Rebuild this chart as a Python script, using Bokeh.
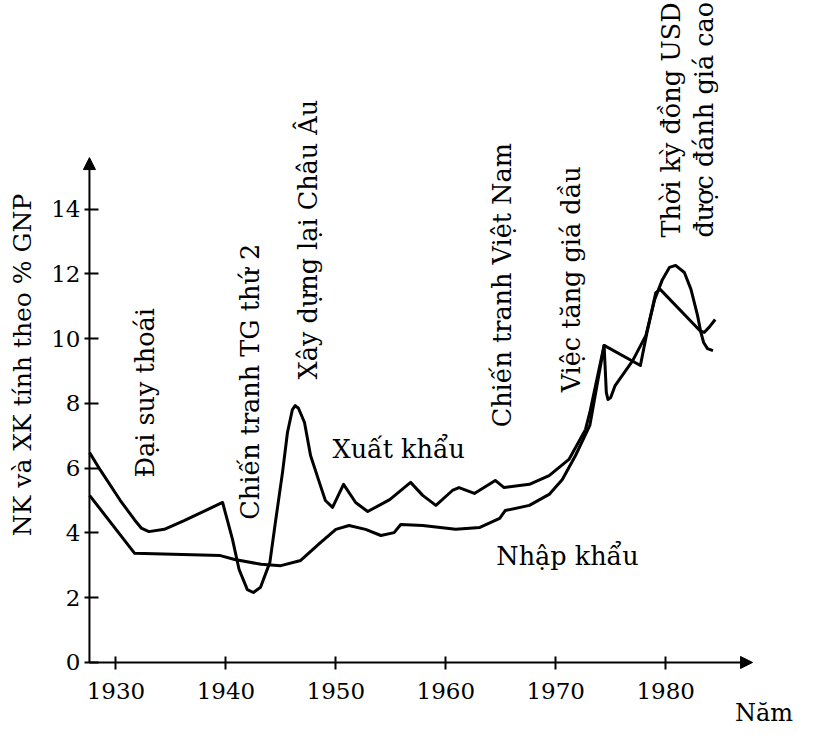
from math import pi
from bokeh.plotting import figure
from bokeh.models import Arrow, NormalHead, Range1d, FixedTicker
from bokeh.core.properties import value
from bokeh.embed import file_html
from bokeh.resources import INLINE

# ---------------- data ----------------
export_years = [1927.6, 1928.6, 1930.4, 1931.7, 1932.3, 1933.0, 1934.4, 1936.2, 1939.7,
                1940.6, 1941.2, 1941.95, 1942.5, 1943.15, 1944.0, 1944.5, 1945.15, 1945.6,
                1946.05, 1946.3, 1946.6, 1947.15, 1947.7, 1948.5, 1949.05, 1949.7, 1950.7,
                1951.8, 1952.9, 1954.9, 1956.8, 1957.9, 1959.1, 1960.6, 1961.2, 1962.6,
                1964.5, 1965.3, 1967.6, 1969.4, 1971.2, 1972.7, 1973.1, 1974.4, 1977.7,
                1978.3, 1979.1, 1979.5, 1983.1, 1983.5, 1984.0, 1984.5]
export_values = [6.48, 5.93, 5.00, 4.40, 4.15, 4.04, 4.11, 4.38, 4.94,
                 3.80, 2.87, 2.25, 2.16, 2.32, 3.09, 4.32, 5.87, 7.10,
                 7.81, 7.93, 7.85, 7.41, 6.39, 5.56, 5.00, 4.79, 5.50,
                 4.94, 4.66, 5.03, 5.56, 5.16, 4.85, 5.31, 5.40, 5.22,
                 5.62, 5.40, 5.50, 5.77, 6.27, 7.19, 7.72, 9.79, 9.17,
                 10.19, 11.42, 11.52, 10.25, 10.19, 10.37, 10.59]

import_years = [1927.6, 1931.7, 1939.5, 1940.8, 1943.2, 1945.0, 1946.8, 1948.6, 1950.0,
                1951.2, 1952.7, 1954.1, 1955.3, 1955.9, 1957.9, 1960.9, 1963.1, 1964.9,
                1965.4, 1967.6, 1969.4, 1970.6, 1971.8, 1973.1, 1974.4, 1974.6, 1974.75,
                1975.0, 1975.4, 1977.0, 1978.2, 1979.0, 1979.7, 1980.35, 1980.9, 1981.7,
                1982.3, 1982.9, 1983.2, 1983.45, 1983.8, 1984.3]
import_values = [5.16, 3.37, 3.30, 3.18, 3.03, 2.99, 3.15, 3.70, 4.11,
                 4.23, 4.11, 3.92, 4.01, 4.26, 4.23, 4.11, 4.17, 4.45,
                 4.69, 4.85, 5.19, 5.65, 6.39, 7.32, 9.79, 8.34, 8.12,
                 8.18, 8.55, 9.32, 10.10, 11.21, 11.82, 12.20, 12.26, 12.04,
                 11.52, 10.71, 10.19, 9.88, 9.69, 9.63]

x_ticks = [1930, 1940, 1950, 1960, 1970, 1980]
y_ticks = [0, 2, 4, 6, 8, 10, 12, 14]

event_labels = ["Đại suy thoái", "Chiến tranh TG thứ 2", "Xây dựng lại Châu Âu",
                "Chiến tranh Việt Nam", "Việc tăng giá dầu",
                "Thời kỳ đồng USD", "được đánh giá cao"]
event_years = [1932.6, 1942.15, 1947.5, 1965.15, 1971.35, 1980.5, 1983.5]
event_bottoms = [5.71, 4.41, 8.74, 7.26, 8.34, 13.12, 13.12]

series_labels = ["Xuất khẩu", "Nhập khẩu"]
series_label_years = [1949.7, 1964.6]
series_label_values = [6.58, 3.30]

y_title = "NK và XK tính theo % GNP"
x_title = ["Năm"]
x_title_year = [1986.3]
x_title_value = [-1.55]

# ---------------- layout ----------------
FONT = "DejaVu Serif"
X0 = 1927.59          # where the vertical axis stands
XL, XR = 1919.50, 1992.17
YB, YT = -2.07, 20.44

p = figure(width=799, height=729, output_backend="svg", toolbar_location=None,
           title=None, x_range=Range1d(XL, XR), y_range=Range1d(YB, YT),
           min_border_left=0, min_border_right=0, min_border_top=0,
           min_border_bottom=0)
p.outline_line_color = None
p.grid.visible = False
p.background_fill_color = "white"
p.border_fill_color = "white"

xa = p.xaxis[0]
xa.fixed_location = 0
xa.ticker = FixedTicker(ticks=x_ticks)
xa.axis_line_color = None
xa.major_tick_in = 6
xa.major_tick_out = 7
xa.major_tick_line_width = 2
xa.major_tick_line_color = "black"
xa.minor_tick_line_color = None
xa.major_label_text_font = FONT
xa.major_label_text_font_size = "23px"
xa.major_label_text_color = "black"
xa.major_label_standoff = 14

ya = p.yaxis[0]
ya.fixed_location = X0
ya.ticker = FixedTicker(ticks=y_ticks)
ya.axis_line_color = None
ya.major_tick_in = 9
ya.major_tick_out = 5
ya.major_tick_line_width = 2
ya.major_tick_line_color = "black"
ya.minor_tick_line_color = None
ya.major_label_text_font = FONT
ya.major_label_text_font_size = "23px"
ya.major_label_text_color = "black"
ya.major_label_standoff = 4
ya.axis_label = y_title
ya.axis_label_text_font = FONT
ya.axis_label_text_font_size = "25px"
ya.axis_label_text_font_style = "normal"
ya.axis_label_text_color = "black"
ya.axis_label_standoff = 11

# axes with arrow heads
p.add_layout(Arrow(end=NormalHead(size=12, fill_color="black", line_color="black"),
                   x_start=X0, y_start=0, x_end=X0, y_end=15.59,
                   line_width=2, line_color="black"))
p.add_layout(Arrow(end=NormalHead(size=12, fill_color="black", line_color="black"),
                   x_start=X0, y_start=0, x_end=1987.9, y_end=0,
                   line_width=2, line_color="black"))

# curves
p.line(export_years, export_values, line_width=3, line_color="black", line_join="round")
p.line(import_years, import_values, line_width=3, line_color="black", line_join="round")

# event annotations (vertical text)
p.text(x=event_years, y=event_bottoms, text=event_labels, angle=pi / 2,
       text_align="left", text_baseline="middle", text_font=value(FONT),
       text_font_size="25.5px", text_color="black")

# series labels
p.text(x=series_label_years, y=series_label_values, text=series_labels,
       text_align="left", text_baseline="alphabetic", text_font=value(FONT),
       text_font_size="25.5px", text_color="black")

# x axis name
p.text(x=x_title_year, y=x_title_value, text=x_title, text_align="left",
       text_baseline="alphabetic", text_font=value(FONT),
       text_font_size="24px", text_color="black")

open("out.html", "w").write(file_html(p, INLINE))
